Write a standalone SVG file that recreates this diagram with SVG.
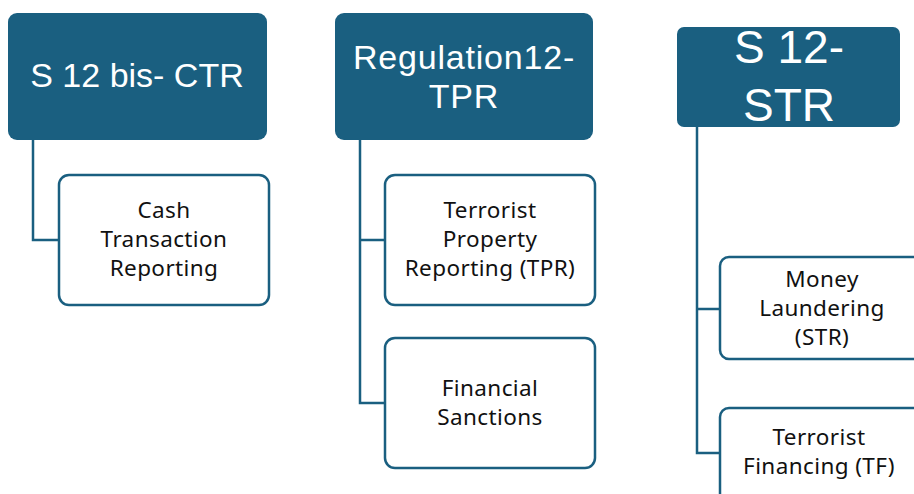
<svg xmlns="http://www.w3.org/2000/svg" width="914" height="494" viewBox="0 0 914 494">
  <style>
    .head { fill: #1a5f80; }
    .child { fill: #ffffff; stroke: #1a5f80; stroke-width: 2.5; }
    .link { fill: none; stroke: #1a5f80; stroke-width: 2.5; }
    .htxt { fill: #ffffff; font-family: "Liberation Sans", Arial, sans-serif; text-anchor: middle; }
    .ctxt { fill: #111111; font-family: "Noto Sans", "Liberation Sans", sans-serif; font-size: 22.5px; letter-spacing: 0.4px; text-anchor: middle; }
  </style>
  <rect width="914" height="494" fill="#ffffff"/>

  <g id="connectors">
    <path class="link" d="M33 140 V240 H59"/>
    <path class="link" d="M360 140 V403 H385 M360 240 H385"/>
    <path class="link" d="M697 127 V453 H720 M697 309 H720"/>
  </g>

  <g id="ctr">
    <rect class="head" x="8" y="13" width="259" height="127" rx="9"/>
    <text class="htxt" x="137" y="87" font-size="34">S 12 bis- CTR</text>
  </g>
  <g id="ctr-cash">
    <rect class="child" x="59" y="175" width="210" height="130" rx="10"/>
    <text class="ctxt" x="164" y="218">Cash</text>
    <text class="ctxt" x="164" y="247">Transaction</text>
    <text class="ctxt" x="164" y="276">Reporting</text>
  </g>

  <g id="tpr">
    <rect class="head" x="335" y="13" width="258" height="127" rx="9"/>
    <text class="htxt" x="464" y="69" font-size="34" letter-spacing="0.8">Regulation12-</text>
    <text class="htxt" x="464" y="108" font-size="34" letter-spacing="0.8">TPR</text>
  </g>
  <g id="tpr-property">
    <rect class="child" x="385" y="175" width="210" height="130" rx="10"/>
    <text class="ctxt" x="490" y="218">Terrorist</text>
    <text class="ctxt" x="490" y="247">Property</text>
    <text class="ctxt" x="490" y="276">Reporting (TPR)</text>
  </g>
  <g id="tpr-sanctions">
    <rect class="child" x="385" y="338" width="210" height="130" rx="10"/>
    <text class="ctxt" x="490" y="396">Financial</text>
    <text class="ctxt" x="490" y="425">Sanctions</text>
  </g>

  <g id="str">
    <rect class="head" x="677" y="27" width="223" height="100" rx="7"/>
    <text class="htxt" x="789" y="63" font-size="46">S 12-</text>
    <text class="htxt" x="789" y="121" font-size="46">STR</text>
  </g>
  <g id="str-ml">
    <rect class="child" x="720" y="257" width="210" height="102" rx="9"/>
    <text class="ctxt" x="822" y="287">Money</text>
    <text class="ctxt" x="822" y="316">Laundering</text>
    <text class="ctxt" x="822" y="345">(STR)</text>
  </g>
  <g id="str-tf">
    <rect class="child" x="720" y="408" width="210" height="102" rx="9"/>
    <text class="ctxt" x="819" y="445">Terrorist</text>
    <text class="ctxt" x="819" y="474">Financing (TF)</text>
  </g>
</svg>
